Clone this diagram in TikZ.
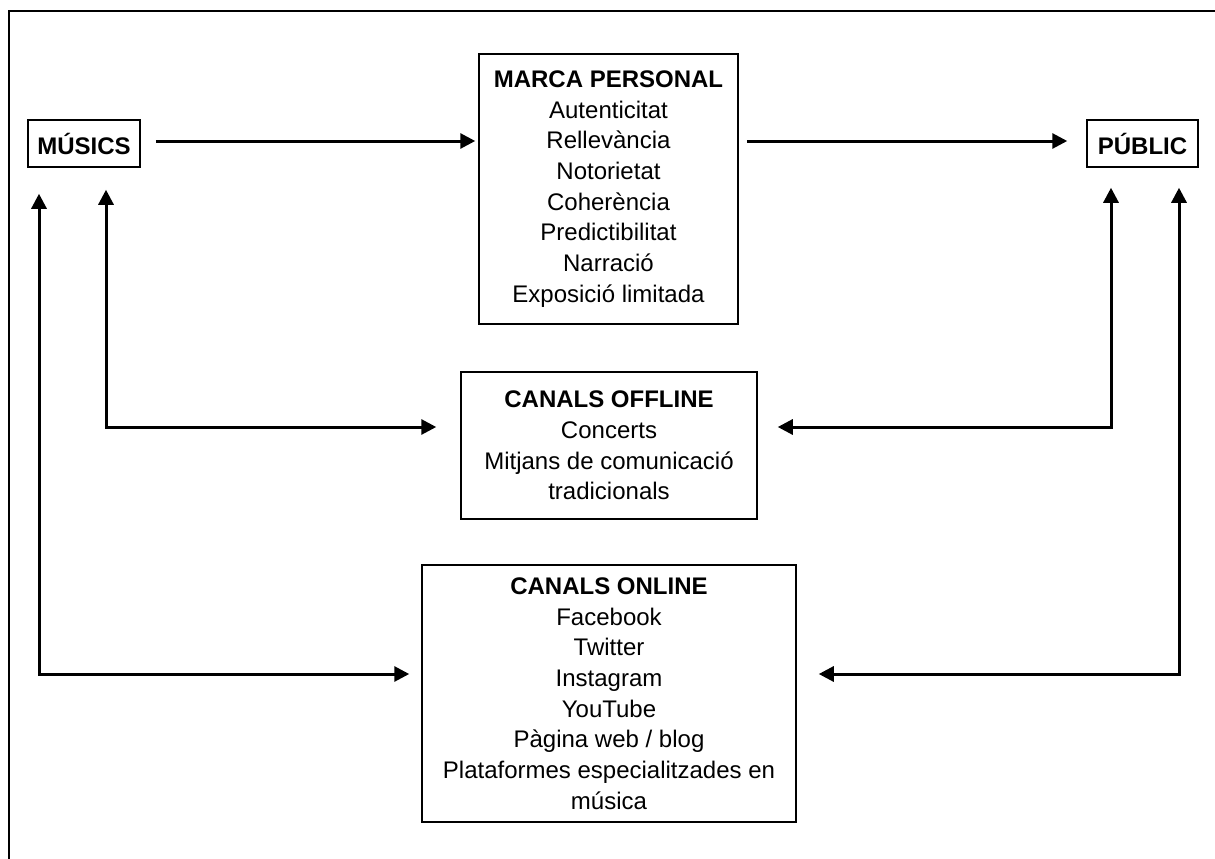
\documentclass[tikz,border=0pt]{standalone}
\usepackage{fontspec}
\setmainfont{Liberation Sans}
\usetikzlibrary{arrows.meta,calc}
\begin{document}
\begin{tikzpicture}[x=1pt,y=-1pt,
  box/.style={draw,line width=1.5pt,inner sep=0pt,align=center,font=\fontsize{24}{30.7}\selectfont},
  arr/.style={line width=3pt,-{Triangle[length=15pt,width=15pt]}},
  dbl/.style={line width=3pt,{Triangle[length=15pt,width=15pt]}-{Triangle[length=15pt,width=15pt]}}]
\useasboundingbox (0,0) rectangle (1215,859);
\draw[line width=2pt] (8.5,870) -- (8.5,11) -- (1225,11);

\node[box,minimum width=112pt,minimum height=47pt] (musics) at (84,143.5) {\textbf{MÚSICS}};
\node[box,minimum width=111pt,minimum height=47pt] (public) at (1142.5,143.5) {\textbf{PÚBLIC}};
\node[box,minimum width=259pt,minimum height=270pt] (marca) at (608.5,189)
  {\textbf{MARCA PERSONAL}\\Autenticitat\\Rellevància\\Notorietat\\Coherència\\Predictibilitat\\Narració\\Exposició limitada};
\node[box,minimum width=296pt,minimum height=147pt] (offline) at (609,445.5)
  {\textbf{CANALS OFFLINE}\\Concerts\\Mitjans de comunicació\\tradicionals};
\node[box,minimum width=374pt,minimum height=257pt] (online) at (609,693.5)
  {\textbf{CANALS ONLINE}\\Facebook\\Twitter\\Instagram\\YouTube\\Pàgina web / blog\\Plataformes especialitzades en\\música};

\coordinate (l1top) at ($(musics.south)+(-45,26)$);
\coordinate (l2top) at ($(musics.south)+(22,22)$);
\coordinate (r1top) at ($(public.south)+(-31.5,20)$);
\coordinate (r2top) at ($(public.south)+(36.5,20)$);
\coordinate (offL) at ($(offline.west)+(-24,-18.5)$);
\coordinate (offR) at ($(offline.east)+(20,-18.5)$);
\coordinate (onL) at ($(online.west)+(-12,-19.5)$);
\coordinate (onR) at ($(online.east)+(22,-19.5)$);

\draw[arr] ($(musics.east)+(15,-2.5)$) -- ($(marca.west |- musics.east)+(-3,-2.5)$);
\draw[arr] ($(marca.east |- public.west)+(8,-2.5)$) -- ($(public.west)+(-19,-2.5)$);
\draw[dbl] (l2top) |- (offL);
\draw[dbl] (l1top) |- (onL);
\draw[dbl] (r1top) |- (offR);
\draw[dbl] (r2top) |- (onR);
\end{tikzpicture}
\end{document}
